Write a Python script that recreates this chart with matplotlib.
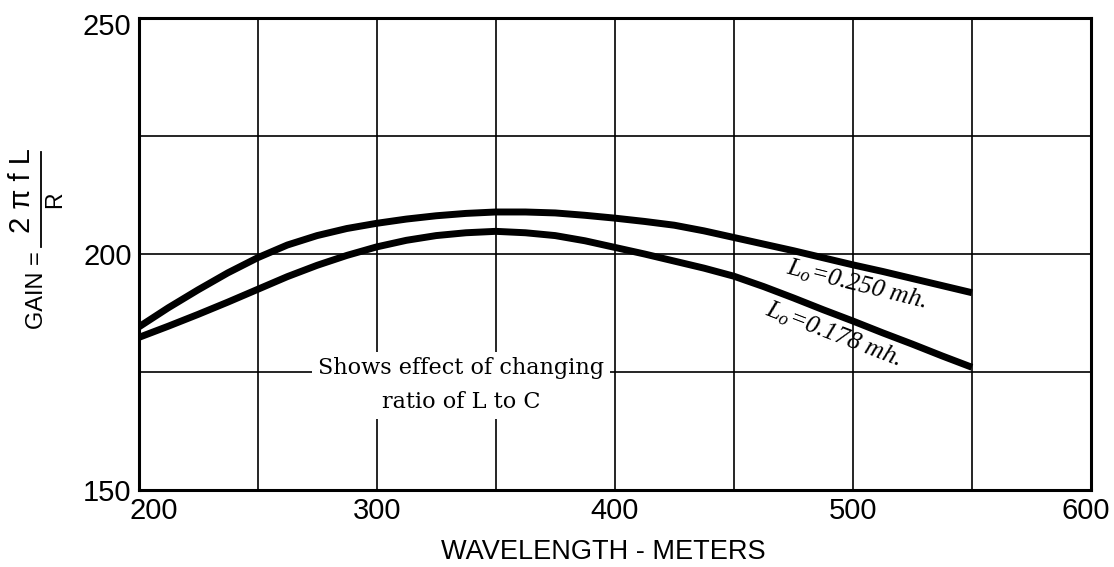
import matplotlib
matplotlib.use("Agg")
import matplotlib.pyplot as plt
import matplotlib.transforms as mtransforms
from matplotlib.lines import Line2D

# ---- data ----
wavelength = [200, 212.5, 225, 237.5, 250, 262.5, 275, 287.5, 300, 312.5, 325, 337.5, 350,
              362.5, 375, 387.5, 400, 412.5, 425, 437.5, 450, 462.5, 475, 487.5, 500,
              512.5, 525, 537.5, 550]
gain_250 = [184.5, 188.6, 192.4, 196.0, 199.2, 201.9, 203.9, 205.4, 206.5, 207.4, 208.1, 208.6, 208.9,
            208.9, 208.7, 208.2, 207.6, 206.9, 206.1, 204.9, 203.5, 202.1, 200.7, 199.2, 197.7,
            196.3, 194.8, 193.3, 191.8]
gain_178 = [182.3, 184.7, 187.2, 189.8, 192.5, 195.2, 197.6, 199.7, 201.5, 202.9, 203.9, 204.5, 204.8,
            204.5, 203.9, 202.8, 201.4, 200.0, 198.5, 197.0, 195.3, 193.1, 190.7, 188.2, 185.8,
            183.3, 180.9, 178.4, 176.0]
label_250 = r"$L_o$=0.250 mh."
label_178 = r"$L_o$=0.178 mh."
x_ticks = [200, 300, 400, 500, 600]
y_ticks = [150, 200, 250]
note = "Shows effect of changing\nratio of L to C"

plt.rcParams["mathtext.fontset"] = "custom"
plt.rcParams["mathtext.rm"] = "Liberation Serif"
plt.rcParams["mathtext.it"] = "Liberation Serif:italic"

SANS = "Liberation Sans"

W, H = 1114, 567
fig = plt.figure(figsize=(W / 100, H / 100), dpi=100)
ax = fig.add_axes([138.5 / W, 1 - 490 / H, (1091 - 138.5) / W, (490 - 18) / H])


def px(x, y):
    return x / W, 1 - y / H


ax.set_xlim(200, 600)
ax.set_ylim(150, 250)
ax.set_xticks(range(200, 601, 50))
ax.set_yticks(range(150, 251, 25))
ax.grid(True, color="black", linewidth=1.2)
ax.set_axisbelow(True)
for s in ax.spines.values():
    s.set_linewidth(2.2)
    s.set_color("black")
ax.tick_params(length=0, labelsize=21)
ax.tick_params(axis="x", pad=5)
ax.tick_params(axis="y", pad=5)

ax.set_xticklabels([str(v) if v in x_ticks else "" for v in range(200, 601, 50)], fontfamily=SANS)
ax.set_yticklabels([str(v) if v in y_ticks else "" for v in range(150, 251, 25)], fontfamily=SANS)
xl = ax.get_xticklabels()
xl[0].set_transform(xl[0].get_transform() + mtransforms.ScaledTranslation(15.5 / 100, 0, fig.dpi_scale_trans))
xl[-1].set_transform(xl[-1].get_transform() + mtransforms.ScaledTranslation(-5 / 100, 0, fig.dpi_scale_trans))
yl = ax.get_yticklabels()
yl[-1].set_transform(yl[-1].get_transform() + mtransforms.ScaledTranslation(0, -6 / 100, fig.dpi_scale_trans))

ax.plot(wavelength, gain_250, color="black", linewidth=5, solid_capstyle="butt",
        solid_joinstyle="round", zorder=3)
ax.plot(wavelength, gain_178, color="black", linewidth=5, solid_capstyle="butt",
        solid_joinstyle="round", zorder=3)

ax.text(501.5, 193.6, label_250, rotation=-14, ha="center", va="center", fontsize=18.5,
        fontfamily="Liberation Serif", fontstyle="italic", zorder=4)
ax.text(491.7, 183.0, label_178, rotation=-21, ha="center", va="center", fontsize=18.5,
        fontfamily="Liberation Serif", fontstyle="italic", zorder=4)

ax.text(335.4, 172.2, note, ha="center", va="center", fontsize=16.1, linespacing=1.72,
        fontfamily="DejaVu Serif", zorder=4,
        bbox=dict(facecolor="white", edgecolor="none", pad=4))

# x-axis title
fig.text(*px(603, 552), "WAVELENGTH - METERS", ha="center", va="center",
         fontsize=19.5, fontfamily=SANS)

# y-axis title built from pieces: GAIN = (2 pi f L) / R
fig.text(*px(37, 251), "GAIN =", rotation=90, ha="center", va="top",
         fontsize=17, fontfamily=SANS)
fig.text(*px(22.5, 191), "2 π f L", rotation=90, ha="center", va="center",
         fontsize=21, fontfamily=SANS)
fig.text(*px(55, 199.5), "R", rotation=90, ha="center", va="center",
         fontsize=16.5, fontfamily=SANS)
fig.add_artist(Line2D([40.7 / W, 40.7 / W], [1 - 152 / H, 1 - 247 / H],
                      transform=fig.transFigure, color="black", linewidth=1.3))

fig.savefig("out.png", dpi=100, facecolor="white")
